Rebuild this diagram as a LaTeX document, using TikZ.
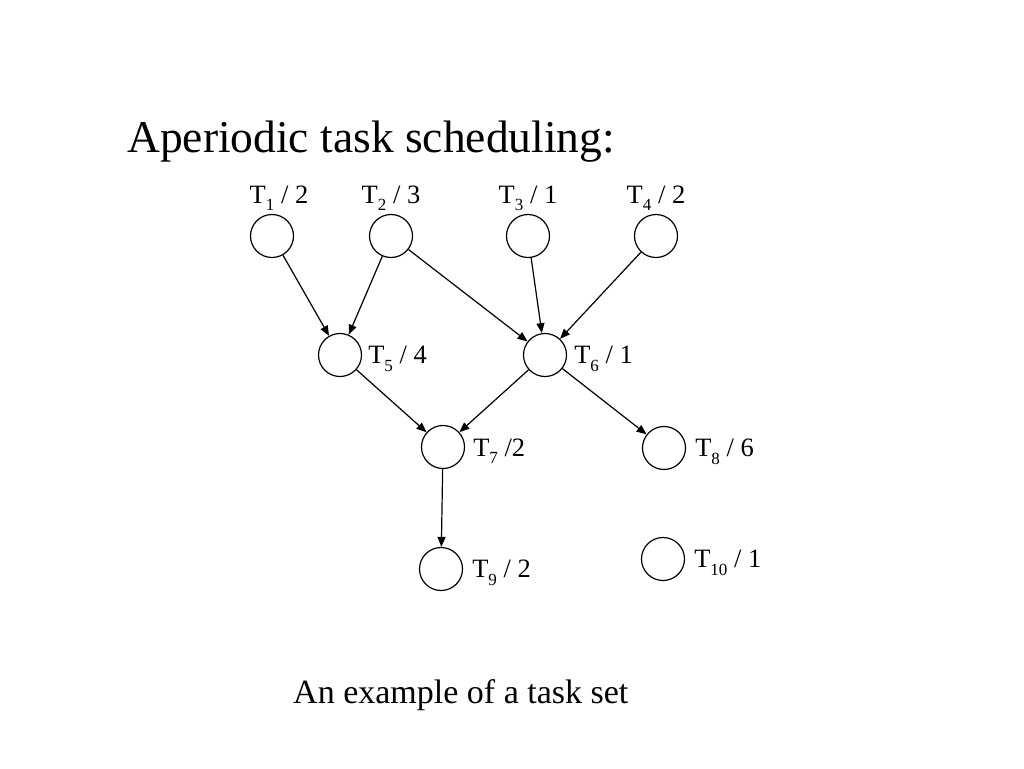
\documentclass[tikz,border=0pt]{standalone}
\usepackage{fontspec}
\setmainfont{Liberation Serif}
\usetikzlibrary{positioning,arrows.meta}
\newcommand{\tsub}[1]{\raisebox{-0.28em}{\fontsize{17}{17}\selectfont #1}}
\begin{document}
\begin{tikzpicture}[x=1pt,y=-1pt,font=\fontsize{26.5}{30}\selectfont,
  task/.style={draw,circle,line width=1.2pt,minimum size=43pt,inner sep=0pt},
  lbl/.style={inner sep=0pt},
  rl/.style={lbl,yshift=-4pt},
  a/.style={-{Triangle[length=10pt,width=8pt]},line width=1.2pt}]
\useasboundingbox (0,0) rectangle (1024,768);
\node[anchor=base west,inner sep=0pt,font=\fontsize{45.5}{50}\selectfont](title) at (127,152){Aperiodic task scheduling:};
% top row
\node[task,label={[lbl,label distance=3pt,xshift=7pt]above:T\tsub{1} / 2}](t1) at (272,236){};
\node[task,label={[lbl,label distance=3pt]above:T\tsub{2} / 3}](t2) at (391,236){};
\node[task,label={[lbl,label distance=3pt]above:T\tsub{3} / 1}](t3) at (528,236){};
\node[task,label={[lbl,label distance=3pt]above:T\tsub{4} / 2}](t4) at (656,236){};
% middle rows
\node[task,label={[rl,label distance=6pt]right:T\tsub{5} / 4}](t5) at (340,355){};
\node[task,label={[rl,label distance=7pt]right:T\tsub{6} / 1}](t6) at (545,355){};
\node[task,label={[rl,label distance=8pt]right:T\tsub{7} /2}](t7) at (443,447){};
\node[task,label={[rl,label distance=9pt]right:T\tsub{8} / 6}](t8) at (664,448){};
% bottom row
\node[task,label={[rl,label distance=9pt]right:T\tsub{9} / 2}](t9) at (441,569){};
\node[task,label={[rl,label distance=9pt]right:T\tsub{10} / 1}](t10) at (663,559){};
\draw[a](t1)--(t5); \draw[a](t2)--(t5);
\draw[a](t2)--(t6); \draw[a](t3)--(t6); \draw[a](t4)--(t6);
\draw[a](t5)--(t7); \draw[a](t6)--(t7); \draw[a](t6)--(t8);
\draw[a](t7)--(t9);
\node[anchor=base west,inner sep=0pt,font=\fontsize{34}{38}\selectfont](cap) at (293,703){An example of a task set};
\end{tikzpicture}
\end{document}
